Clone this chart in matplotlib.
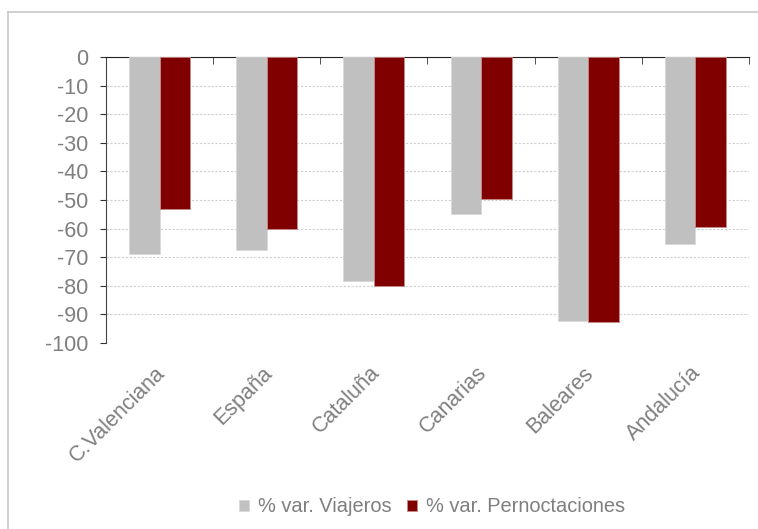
import numpy as np
import matplotlib.pyplot as plt
from matplotlib.lines import Line2D
from matplotlib.transforms import ScaledTranslation

plt.rcParams['font.family'] = ['Liberation Sans', 'DejaVu Sans']

# datos
regiones = ["C.Valenciana", "España", "Cataluña", "Canarias", "Baleares", "Andalucía"]
viajeros = [-68.8, -67.5, -78.2, -54.8, -92.2, -65.4]
pernoctaciones = [-53.3, -60.0, -80.0, -49.7, -92.8, -59.5]
y_ticks = [0, -10, -20, -30, -40, -50, -60, -70, -80, -90, -100]

gris = "#c0c0c0"
rojo = "#800000"
texto = "#7f7f7f"

fig = plt.figure(figsize=(7.58, 5.29), dpi=100)
ax = fig.add_axes([106/758, 1-343/529, (749-106)/758, (343-57)/529])

x = np.arange(len(regiones))
w = 0.285
ax.bar(x - w/2, viajeros, w, color=gris, edgecolor="#d9d9d9", linewidth=0.6, label="% var. Viajeros", zorder=3)
ax.bar(x + w/2, pernoctaciones, w, color=rojo, edgecolor="#c98a8a", linewidth=0.6, label="% var. Pernoctaciones", zorder=3)

ax.set_xlim(-0.5, len(regiones) - 0.5)
ax.set_ylim(-100, 0)
ax.set_yticks(y_ticks)
ax.set_yticklabels([str(v) for v in y_ticks])
ax.yaxis.grid(True, linestyle=(0, (2, 1.5)), color="#d0d0d0", linewidth=0.8, zorder=0)

ax.set_xticks(x)
ax.set_xticklabels(regiones, rotation=45, ha="right", rotation_mode="anchor")
ax.set_xticks(np.arange(-0.5, len(regiones)), minor=True)
ax.tick_params(axis="x", which="major", length=0, pad=14, labelsize=15.5, labelcolor=texto)
ax.tick_params(axis="x", which="minor", bottom=False, top=True, direction="in", length=5, color="#333333")
ax.tick_params(axis="y", length=4.5, color="#333333", labelsize=15.5, labelcolor=texto, pad=8)

# mover etiquetas un poco a la izquierda
desp = ScaledTranslation(-5/100, 0, fig.dpi_scale_trans)
for lab in ax.get_xticklabels():
    lab.set_transform(lab.get_transform() + desp)

for s in ["bottom", "right"]:
    ax.spines[s].set_visible(False)
ax.spines["top"].set_color("#222222")
ax.spines["left"].set_color("#444444")

# marco exterior
fig.add_artist(Line2D([8/758, 8/758], [0, 1-12/529], color="#c8c8c8", lw=1.2, transform=fig.transFigure))
fig.add_artist(Line2D([8/758, 1], [1-12/529, 1-12/529], color="#c8c8c8", lw=1.2, transform=fig.transFigure))

fig.legend(loc="center", bbox_to_anchor=(432/758, 1-507/529), ncol=2, frameon=False,
           fontsize=14.4, labelcolor=texto, handlelength=0.5, handleheight=0.5,
           handletextpad=0.45, columnspacing=0.75)

fig.savefig("out.png", dpi=100)
